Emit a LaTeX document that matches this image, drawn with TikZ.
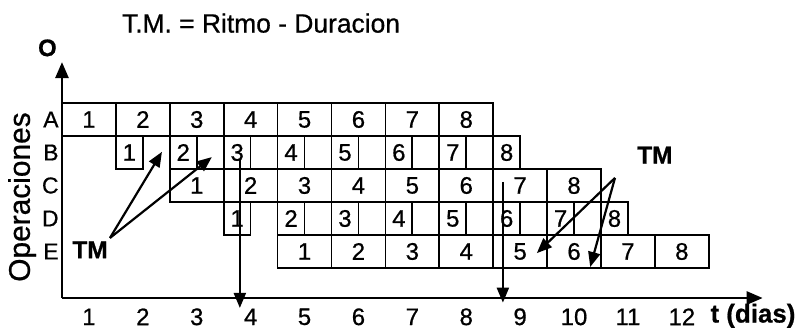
\documentclass[tikz,border=0pt]{standalone}
\usepackage{fontspec}
\setmainfont{Liberation Sans}[FakeBold=0.7]
\usetikzlibrary{arrows.meta}

\tikzset{
  cell/.style={draw, line width=1.7bp, minimum width=53.9bp, minimum height=33bp, inner sep=0pt, font=\fontsize{24}{24}\selectfont},
  halfcell/.style={cell, minimum width=26.95bp},
  digit/.style={inner sep=0pt, font=\fontsize{24}{24}\selectfont},
  rowlbl/.style={inner sep=0pt, font=\fontsize{23}{23}\selectfont},
  tmlbl/.style={inner sep=0pt, font=\fontsize{24.5}{24.5}\selectfont\bfseries},
  tmarrow/.style={-{Triangle[length=15bp,width=12bp]}, line width=2.2bp},
  axis/.style={-{Triangle[length=16bp,width=13bp]}, line width=2.6bp},
}

\begin{document}
\begin{tikzpicture}[x=53.9bp, y=33bp]
  \useasboundingbox (-1.150,-0.970) rectangle (13.748,9.121);
  % title
  \node[inner sep=0pt, anchor=west, font=\fontsize{26.5}{26.5}\selectfont] (titulo) at (1.11,8.42) {T.M. = Ritmo - Duracion};
  % axes
  \coordinate (orig) at (0,0.09);
  \coordinate (xend) at (13.0,0.09);
  \coordinate (yend) at (0,7.24);
  \draw[axis] (orig) -- (xend);
  \draw[axis] (orig) -- (yend);
  \node[inner sep=0pt, font=\fontsize{24}{24}\selectfont\bfseries] (olbl) at (-0.27,7.67) {O};
  \node[inner sep=0pt, font=\fontsize{26}{26}\selectfont\bfseries] (tlbl) at (12.82,-0.45) {t (dias)};
  \node[inner sep=0pt, rotate=90, font=\fontsize{30}{30}\selectfont] (oplbl) at (-0.74,3.15) {Operaciones};
  \foreach \i in {1,...,12}
    \node[digit] (t\i) at (\i-0.5,-0.48) {\i};
  \foreach \r/\y in {A/5.5, B/4.5, C/3.5, D/2.5, E/1.5}
    \node[rowlbl, anchor=east] (op\r) at (-0.06,\y) {\r};
  % operaciones
  \foreach \i in {1,...,8} {
    \node[cell] (a\i) at (\i-0.5,5.5) {\i};
    \node[halfcell] (b\i) at (\i+0.25,4.5) {\i};
    \node[cell] (c\i) at (\i+1.5,3.5) {\i};
    \node[halfcell] (d\i) at (\i+2.25,2.5) {\i};
    \node[cell] (e\i) at (\i+3.5,1.5) {\i};
  }
  % TM
  \node[tmlbl] (tmL) at (0.52,1.55) {TM};
  \node[tmlbl] (tmR) at (11.0,4.42) {TM};
  \coordinate (tmLs) at (0.89,1.91);
  \coordinate (tmRs) at (10.26,3.73);
  \coordinate (p1) at (1.855,4.52);
  \coordinate (p2) at (2.78,4.36);
  \coordinate (p3) at (8.81,1.45);
  \coordinate (p4) at (9.80,1.03);
  \draw[tmarrow] (tmLs) -- (p1);
  \draw[tmarrow] (tmLs) -- (p2);
  \draw[tmarrow] (tmRs) -- (p3);
  \draw[tmarrow] (tmRs) -- (p4);
  % lineas verticales
  \coordinate (v1a) at (3.30,4.27);
  \coordinate (v1b) at (3.30,-0.21);
  \coordinate (v2a) at (8.18,3.61);
  \coordinate (v2b) at (8.18,-0.05);
  \draw[tmarrow] (v1a) -- (v1b);
  \draw[tmarrow] (v2a) -- (v2b);
\end{tikzpicture}
\end{document}
